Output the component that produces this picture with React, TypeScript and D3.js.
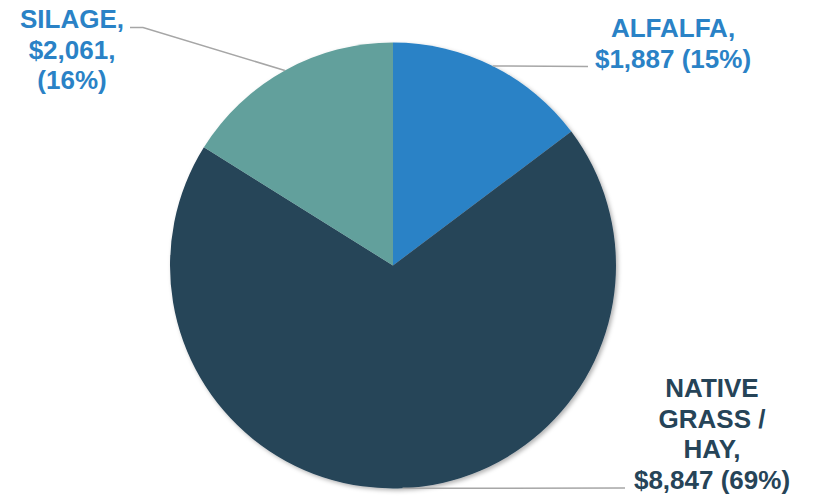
import React from "react";
import * as d3 from "d3";

const categories = ["ALFALFA", "NATIVE GRASS / HAY", "SILAGE"];
const values = [1887, 8847, 2061];
const labelLines = [
  ["ALFALFA,", "$1,887 (15%)"],
  ["NATIVE", "GRASS /", "HAY,", "$8,847 (69%)"],
  ["SILAGE,", "$2,061,", "(16%)"],
];
const colors = ["#2A82C6", "#264458", "#62A09C"];
const textColors = ["#2A82C6", "#264458", "#2A82C6"];

const W = 828;
const H = 499;
const cx = 393;
const cy = 265.5;
const R = 223;

const labelPos = [
  { x: 673, y: 37, lx: 588, ly: 66.5, elbow: null as number | null },
  { x: 712, y: 397, lx: 625, ly: 488, elbow: null as number | null },
  { x: 72, y: 28, lx: 130, ly: 27.5, elbow: 143 },
];

export default function App() {
  const pie = d3.pie<number>().sort(null).value((d) => d);
  const arcs = pie(values);
  const arc = d3.arc<d3.PieArcDatum<number>>().innerRadius(0).outerRadius(R);
  const lineH = 30.5;
  return (
    <svg
      width={W}
      height={H}
      style={{ position: "absolute", left: 0, top: 0, background: "#fff" }}
    >
      <defs>
        <filter id="sh" x="-10%" y="-10%" width="120%" height="120%">
          <feDropShadow dx="2" dy="2" stdDeviation="2" floodColor="#000" floodOpacity="0.3" />
        </filter>
      </defs>
      <g transform={`translate(${cx},${cy})`} filter="url(#sh)">
        {arcs.map((a, i) => (
          <path key={categories[i]} d={arc(a) || ""} fill={colors[i]} />
        ))}
      </g>
      {arcs.map((a, i) => {
        const mid = (a.startAngle + a.endAngle) / 2;
        const sx = cx + R * Math.sin(mid);
        const sy = cy - R * Math.cos(mid);
        const p = labelPos[i];
        const pts = p.elbow !== null
          ? `${sx},${sy} ${p.elbow},${p.ly} ${p.lx},${p.ly}`
          : `${sx},${sy} ${p.lx},${p.ly}`;
        return (
          <polyline key={"l" + i} points={pts} fill="none" stroke="#A6A6A6" strokeWidth={1.5} />
        );
      })}
      {labelLines.map((lines, i) => (
        <text
          key={"t" + i}
          x={labelPos[i].x}
          y={labelPos[i].y}
          textAnchor="middle"
          fontFamily="'Liberation Sans', Arial, sans-serif"
          fontWeight="bold"
          fontSize={26}
          fill={textColors[i]}
        >
          {lines.map((t, j) => (
            <tspan key={j} x={labelPos[i].x} y={labelPos[i].y + j * lineH}>
              {t}
            </tspan>
          ))}
        </text>
      ))}
    </svg>
  );
}
